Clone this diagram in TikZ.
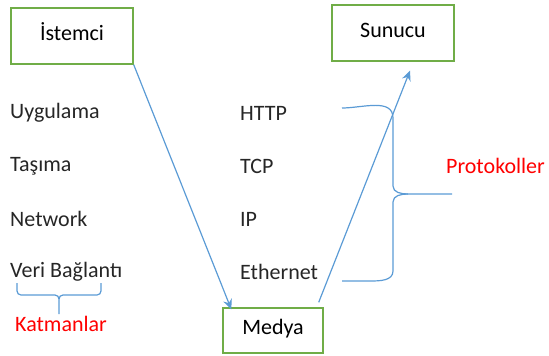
\documentclass[tikz,border=0pt]{standalone}
\usepackage{fontspec}
\setmainfont{Carlito}
\usetikzlibrary{arrows.meta, positioning}
\definecolor{boxGreen}{HTML}{70AD47}
\definecolor{flowBlue}{HTML}{5B9BD5}
\tikzstyle{device}=[draw=boxGreen, line width=1.4pt, minimum width=122pt, minimum height=56pt, inner sep=0pt]
\tikzstyle{layerText}=[anchor=west, inner sep=0pt, text=black!85]
\tikzstyle{groupName}=[text=red, anchor=west, inner sep=0pt]
\tikzstyle{dataFlow}=[draw=flowBlue, line width=1.2pt, -{Stealth[length=10pt,width=9pt]}]
\tikzstyle{bracket}=[draw=flowBlue, line width=1.2pt]

\begin{document}
\begin{tikzpicture}[x=1pt, y=-1pt, font=\fontsize{22}{26}\selectfont]
    \useasboundingbox (0,0) rectangle (549,356);

    \node (client)[device, text depth=8pt] at (72,36) {İstemci};
    \node (server)[device, text depth=6pt] at (393,33) {Sunucu};
    \node (media)[device, minimum width=100pt, minimum height=45pt, text depth=8pt] at (273,330.5) {Medya};

    \node (app)[layerText] at (10,113) {Uygulama};
    \node (trans)[layerText] at (10,166) {Taşıma};
    \node (net)[layerText] at (10,219) {Network};
    \node (link)[layerText] at (10,272) {Veri Bağlantı};

    \node (http)[layerText] at (240,113) {HTTP};
    \node (tcp)[layerText] at (240,166) {TCP};
    \node (ip)[layerText] at (240,219) {IP};
    \node (eth)[layerText] at (240,272) {Ethernet};

    \node (layers)[groupName] at (15,324) {Katmanlar};
    \node (protocols)[groupName] at (446,166) {Protokoller};

    \draw[dataFlow] (client.south east) -- ([xshift=9pt,yshift=-2pt]media.north west);
    \draw[dataFlow] ([xshift=-5pt,yshift=5pt]media.north east) -- ([xshift=17pt,yshift=-9pt]server.south);

    % brace under the layers
    \draw[bracket] (17,283) -- (17,291) to[out=-90,in=180] (21,295) -- (55,295) to[out=0,in=90] (59,299) -- (59,314);
    \draw[bracket] (101,283) -- (101,291) to[out=-90,in=0] (97,295) -- (63,295) to[out=180,in=90] (59,299);

    % brace round the protocols
    \draw[bracket] (342,108) to[out=0,in=90] (393,118) -- (393,186) to[out=-90,in=180] (408,194) -- (452,194);
    \draw[bracket] (408,194) to[out=180,in=90] (393,202) -- (393,271) to[out=-90,in=0] (370,281) -- (342,281);

\end{tikzpicture}
\end{document}
